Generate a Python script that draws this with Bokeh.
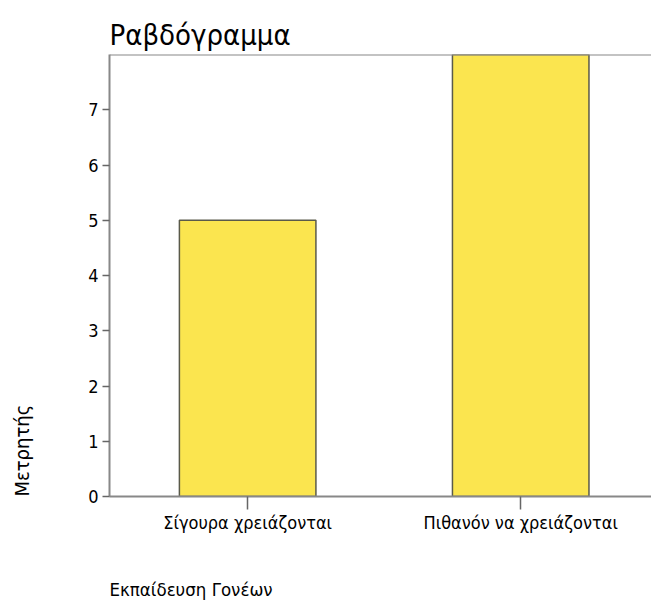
from bokeh.plotting import figure
from bokeh.models import Range1d, FixedTicker, Span, Title
from bokeh.embed import file_html
from bokeh.resources import INLINE

categories = ["Σίγουρα χρειάζονται", "Πιθανόν να χρειάζονται"]
counts = [5, 8]
y_ticks = [0, 1, 2, 3, 4, 5, 6, 7]
title_text = "Ραβδόγραμμα"
x_label = "Εκπαίδευση Γονέων"
y_label = "Μετρητής"

positions = list(range(1, len(categories) + 1))
FONT = "DejaVu Sans Condensed"
H = 603

p = figure(width=651, height=H, output_backend="svg", toolbar_location=None,
           x_range=Range1d(0.494, 2.479), y_range=Range1d(0, 8),
           min_border_left=109, min_border_top=54, min_border_right=0, min_border_bottom=H - 496)

p.title.text = title_text
p.title.text_font = FONT
p.title.text_font_size = "29px"
p.title.text_font_style = "normal"
p.title.text_color = "black"
p.title.standoff = 6

p.vbar(x=positions, top=counts, width=0.5, fill_color="#FBE54F",
       line_color="#5a5a4a", line_width=1.5)

p.outline_line_color = None
p.xgrid.visible = False
p.ygrid.visible = False

p.xaxis.ticker = FixedTicker(ticks=positions)
p.xaxis.major_label_overrides = {pos: c for pos, c in zip(positions, categories)}
p.yaxis.ticker = FixedTicker(ticks=y_ticks)
p.xaxis.minor_tick_line_color = None
p.yaxis.minor_tick_line_color = None

for ax in (p.xaxis[0], p.yaxis[0]):
    ax.axis_line_color = "#888888"
    ax.axis_line_width = 2
    ax.major_tick_line_color = "#666666"
    ax.major_tick_line_width = 1.5
    ax.major_tick_in = 0
    ax.major_label_text_font = FONT
    ax.major_label_text_font_size = "18px"
    ax.major_label_text_color = "black"
    ax.axis_label = " "
    ax.axis_label_text_font_size = "1px"

p.xaxis.major_tick_out = 13
p.xaxis.major_label_standoff = 2
p.xaxis.axis_label_standoff = 39
p.yaxis.major_tick_out = 7
p.yaxis.major_label_standoff = 4
p.yaxis.axis_label_standoff = 48

top_border = Span(location=8, dimension="width", line_color="#888888", line_width=2)
p.add_layout(top_border)

xlab = Title(text=x_label, align="left", vertical_align="top", text_font=FONT,
             text_color="black", text_font_size="18.5px", text_font_style="normal", standoff=0)
p.add_layout(xlab, "below")

ylab = Title(text=y_label, align="left", vertical_align="bottom", text_font=FONT,
             text_color="black", text_font_size="20px", text_font_style="normal", standoff=0)
p.add_layout(ylab, "left")

open("out.html", "w").write(file_html(p, INLINE))
